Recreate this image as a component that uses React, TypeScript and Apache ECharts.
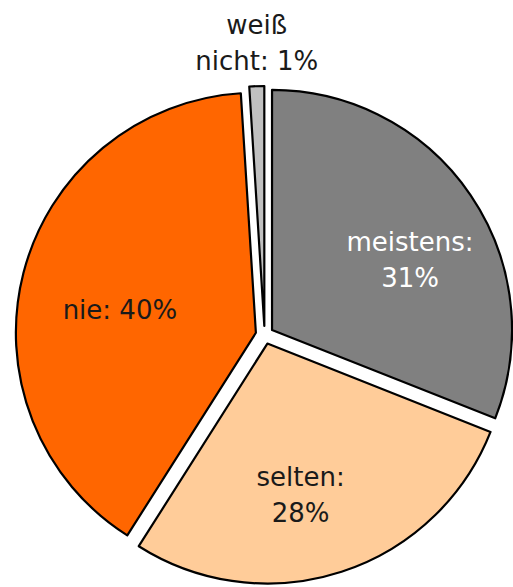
import React, { useEffect, useRef } from "react";
import * as echarts from "echarts";

const names = ["meistens", "selten", "nie", "weiß\nnicht"];
const values = [31, 28, 40, 1];
const separators = ["\n", "\n", " ", " "];
const colors = ["#808080", "#FFCC99", "#FF6600", "#C0C0C0"];
const labelColors = ["#ffffff", "#1a1a1a", "#1a1a1a", "#1a1a1a"];
const labelOffsets = [
  [18, 6],
  [-14, 31],
  [-16, -4],
  [0, -163],
];

export default function App() {
  const ref = useRef<HTMLDivElement>(null);
  useEffect(() => {
    if (!ref.current) return;
    const chart = echarts.init(ref.current, undefined, { renderer: "svg" });
    const data = names.map((n, i) => {
      const itemStyle = { color: colors[i], borderColor: "#000", borderWidth: 2.2 };
      const label = {
        show: true,
        position: "inside",
        color: labelColors[i],
        offset: labelOffsets[i],
        fontFamily: "DejaVu Sans",
        fontSize: 26,
        lineHeight: 36,
        formatter: () => `${n}:${separators[i]}${values[i]}%`,
      };
      return {
        name: n,
        value: values[i],
        selected: true,
        itemStyle,
        label,
        select: { itemStyle, label },
      };
    });
    chart.setOption({
      animation: false,
      series: [
        {
          type: "pie",
          center: [264.6, 335],
          radius: 240,
          startAngle: 90,
          clockwise: true,
          selectedMode: "multiple",
          selectedOffset: 9,
          avoidLabelOverlap: false,
          emphasis: { disabled: true },
          labelLine: { show: false },
          data,
        },
      ],
    });
    return () => chart.dispose();
  }, []);
  return (
    <div
      ref={ref}
      style={{ position: "fixed", left: 0, top: 0, width: 513, height: 587, background: "#fff" }}
    />
  );
}
